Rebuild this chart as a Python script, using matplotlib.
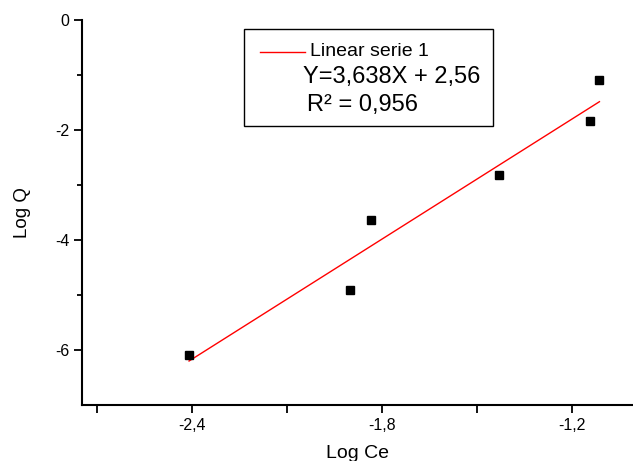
import matplotlib
matplotlib.use("Agg")
import matplotlib.pyplot as plt
import numpy as np
from matplotlib.ticker import FixedLocator, FuncFormatter
from matplotlib.patches import Rectangle
from matplotlib.lines import Line2D

plt.rcParams['font.family'] = ['Liberation Sans', 'DejaVu Sans']

log_ce = [-2.408, -1.899, -1.834, -1.430, -1.142, -1.112]
log_q = [-6.10, -4.90, -3.63, -2.81, -1.83, -1.10]
slope = 3.638
intercept = 2.56
x_major = [-2.4, -1.8, -1.2]
x_minor = [-2.7, -2.1, -1.5]
y_major = [0, -2, -4, -6]
y_minor = [-1, -3, -5]

W, H = 633, 461
fig = plt.figure(figsize=(W / 100, H / 100), dpi=100)
ax = fig.add_axes([81.7 / W, 1 - 405 / H, 1 - 81.7 / W, (405 - 20) / H])

ax.plot(log_ce, log_q, 's', color='black', markersize=6, zorder=3)
xf = np.array([min(log_ce), max(log_ce)])
ax.plot(xf, slope * xf + intercept, color='red', lw=1.0, zorder=2)

ax.set_xlim(-2.747, -1.006)
ax.set_ylim(-7, 0)

for s in ['top', 'right']:
    ax.spines[s].set_visible(False)
for s in ['left', 'bottom']:
    ax.spines[s].set_linewidth(1.5)

fmt = FuncFormatter(lambda v, p: ('%g' % v).replace('.', ','))
ax.xaxis.set_major_locator(FixedLocator(x_major))
ax.xaxis.set_minor_locator(FixedLocator(x_minor))
ax.yaxis.set_major_locator(FixedLocator(y_major))
ax.yaxis.set_minor_locator(FixedLocator(y_minor))
ax.xaxis.set_major_formatter(fmt)
ax.yaxis.set_major_formatter(fmt)
ax.tick_params(axis='both', which='major', direction='out', length=6, width=1.3, labelsize=11.5, pad=3)
ax.tick_params(axis='x', which='minor', direction='out', length=5.5, width=1.3)
ax.tick_params(axis='y', which='minor', direction='out', length=3.6, width=1.3)

ax.set_xlabel('Log Ce', fontsize=14, labelpad=9)
ax.set_ylabel('Log Q', fontsize=13.5, labelpad=17)

# legend box
def fx(px):
    return px / W
def fy(py):
    return 1 - py / H

box = Rectangle((fx(244), fy(126.3)), fx(493.3) - fx(244), fy(28.7) - fy(126.3),
                transform=fig.transFigure, fill=False, edgecolor='black', lw=1.0)
fig.add_artist(box)
fig.add_artist(Line2D([fx(260), fx(305)], [fy(51.7), fy(51.7)], color='red', lw=1.0,
                      transform=fig.transFigure))
fig.text(fx(310), fy(51.7), 'Linear serie 1', fontsize=14, va='center', ha='left')
fig.text(fx(303), fy(77), 'Y=3,638X + 2,56', fontsize=17, va='center', ha='left')
fig.text(fx(307), fy(105), 'R² = 0,956', fontsize=17, va='center', ha='left')

fig.savefig('out.png', dpi=100)
